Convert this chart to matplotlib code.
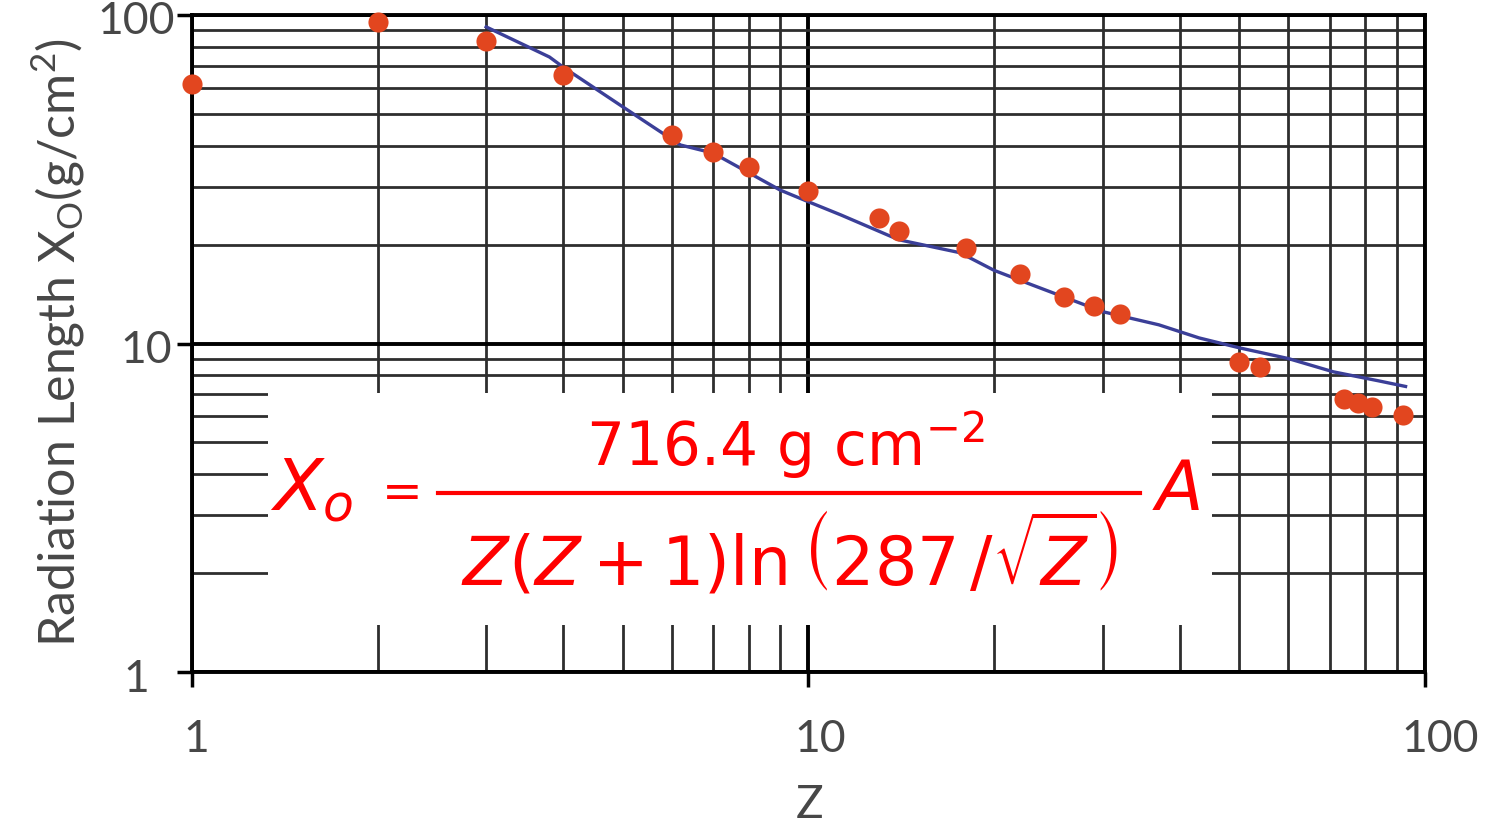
import numpy as np
from matplotlib import pyplot as plt
from matplotlib.patches import Rectangle
from matplotlib.lines import Line2D
from matplotlib import transforms

# measured radiation lengths per element
z_meas = [1, 2, 3, 4, 6, 7, 8, 10, 13, 14, 18, 22, 26, 29, 32, 50, 54, 74, 78, 82, 92]
x0_meas = [61.7, 95.2, 83.4, 65.7, 43.1, 38.3, 34.5, 29.1, 24.1, 22.0, 19.5,
           16.3, 13.9, 13.0, 12.3, 8.78, 8.48, 6.78, 6.59, 6.41, 6.06]

# approximate-formula curve
z_fit = [3, 3.8, 4, 5, 5.6, 6.2, 7, 9, 10, 11.3, 14, 17.6, 20, 23, 30, 37, 43,
         50, 60, 71, 84, 93]
x0_fit = [92, 74.5, 69.4, 52.5, 45.6, 40.2, 38.0, 29.3, 27.0, 24.6, 20.7, 18.9,
          16.7, 15.1, 12.5, 11.4, 10.4, 9.7, 9.0, 8.2, 7.7, 7.4]

tick_vals = [1, 10, 100]
tick_text = ["1", "10", "100"]

W, H = 1495, 825
label_color = "#474747"
label_font = ["Lato", "DejaVu Sans"]

fig = plt.figure(figsize=(W / 100, H / 100), dpi=100)
ax = fig.add_axes([192 / W, 1 - 672 / H, (1425 - 192) / W, (672 - 15) / H])
ax.set_xscale("log")
ax.set_yscale("log")
ax.set_xlim(1, 100)
ax.set_ylim(1, 100)

ax.set_axisbelow(True)
ax.grid(which="major", color="black", linewidth=2.8)
ax.grid(which="minor", color="#2e2e2e", linewidth=2.0)
for sp in ax.spines.values():
    sp.set_linewidth(2.8)
ax.tick_params(which="major", direction="out", length=11, width=2.5,
               labelbottom=False, labelleft=False)
ax.tick_params(which="minor", length=0)

# white panel behind the formula
ax.add_patch(Rectangle((268 / W, 1 - 625 / H), (1212 - 268) / W, (625 - 393) / H,
                       transform=fig.transFigure, facecolor="white",
                       edgecolor="none", zorder=1))

ax.plot(z_fit, x0_fit, color="#3b3f98", linewidth=2.4, zorder=3, clip_on=False)
ax.scatter(z_meas, x0_meas, s=210, color="#e2461f", zorder=4, clip_on=False,
           linewidths=0)

# hand-placed tick labels
ytr = transforms.offset_copy(ax.get_yaxis_transform(), fig, y=-7, units="dots")
for v, t, xoff in zip(tick_vals, tick_text, [-0.035, -0.016, -0.014]):
    ax.text(xoff, v, t, transform=ytr, ha="right", va="center", fontsize=32,
            color=label_color, family=label_font)
for v, t, dx in zip(tick_vals, tick_text, [4, 12, 15]):
    xtr = transforms.offset_copy(ax.get_xaxis_transform(), fig, x=dx, units="dots")
    ax.text(v, -0.103, t, transform=xtr, ha="center", va="center", fontsize=32,
            color=label_color, family=label_font)

fig.text(810 / W, 1 - 805 / H, "Z", ha="center", va="center", fontsize=33,
         color=label_color, family=label_font)
fig.text(58 / W, 1 - 342 / H,
         r"Radiation Length X$_\mathregular{O}$(g/cm$^\mathregular{2}$)",
         rotation=90, ha="center", va="center", fontsize=36,
         color=label_color, family=label_font)

# the formula
plt.rcParams["mathtext.fontset"] = "dejavusans"
red = "#ff0000"
fig.text(312 / W, 1 - 490 / H, r"$X_o$", ha="center", va="center",
         fontsize=52, color=red, zorder=5)
fig.text(396 / W, 1 - 492 / H, r"$=$", ha="center", va="center",
         fontsize=35, color=red, zorder=5)
fig.text(785 / W, 1 - 445 / H, r"$716.4\ \mathrm{g\ cm^{-2}}$", ha="center",
         va="center", fontsize=43, color=red, zorder=5)
fig.add_artist(Line2D([438 / W, 1140 / W], [1 - 493 / H, 1 - 493 / H],
                      transform=fig.transFigure, color=red, linewidth=3, zorder=5))
fig.text(790 / W, 1 - 555 / H,
         r"$Z(Z+1)\ln\left(287\,/\sqrt{Z}\right)$",
         ha="center", va="center", fontsize=48, color=red, zorder=5)
fig.text(1176 / W, 1 - 490 / H, r"$A$", ha="center", va="center",
         fontsize=50, color=red, zorder=5)

plt.savefig("out.png", dpi=100)
